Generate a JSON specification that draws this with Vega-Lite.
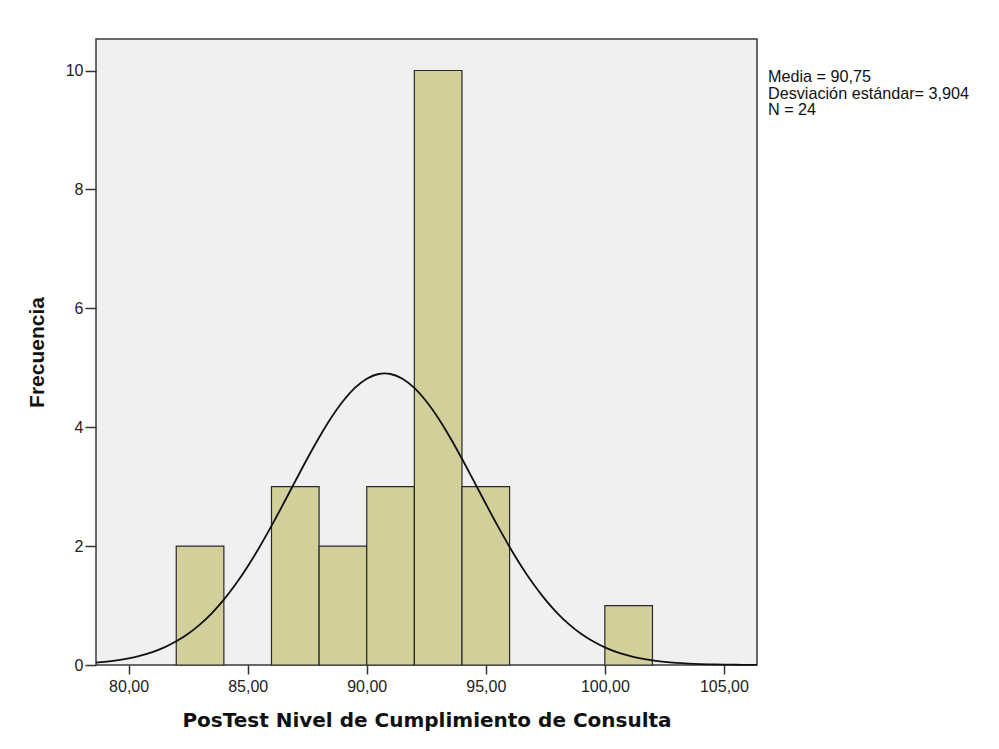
{
  "$schema": "https://vega.github.io/schema/vega-lite/v6.json",
  "autosize": {"type": "none"},
  "width": 661,
  "height": 626,
  "padding": {"left": 96, "top": 39, "right": 242, "bottom": 84},
  "background": "white",
  "config": {
    "view": {"fill": "#f0f0f0", "stroke": "#3a3a3a", "strokeWidth": 1.5},
    "axis": {"grid": false, "domain": false}
  },
  "datasets": {
    "bars": [
      {"bin_start": 82, "bin_end": 84, "count": 2},
      {"bin_start": 86, "bin_end": 88, "count": 3},
      {"bin_start": 88, "bin_end": 90, "count": 2},
      {"bin_start": 90, "bin_end": 92, "count": 3},
      {"bin_start": 92, "bin_end": 94, "count": 10},
      {"bin_start": 94, "bin_end": 96, "count": 3},
      {"bin_start": 100, "bin_end": 102, "count": 1}
    ],
    "curve": [
      {"x": 78.63, "y": 0.0396}, {"x": 79.0, "y": 0.0529}, {"x": 79.5, "y": 0.0772},
      {"x": 80.0, "y": 0.1107}, {"x": 80.5, "y": 0.1563}, {"x": 81.0, "y": 0.2169},
      {"x": 81.5, "y": 0.2962}, {"x": 82.0, "y": 0.398}, {"x": 82.5, "y": 0.526},
      {"x": 83.0, "y": 0.684}, {"x": 83.5, "y": 0.8746}, {"x": 84.0, "y": 1.100},
      {"x": 84.5, "y": 1.362}, {"x": 85.0, "y": 1.658}, {"x": 85.5, "y": 1.986},
      {"x": 86.0, "y": 2.340}, {"x": 86.5, "y": 2.712}, {"x": 87.0, "y": 3.092},
      {"x": 87.5, "y": 3.469}, {"x": 88.0, "y": 3.827}, {"x": 88.5, "y": 4.154},
      {"x": 89.0, "y": 4.436}, {"x": 89.5, "y": 4.660}, {"x": 90.0, "y": 4.815},
      {"x": 90.5, "y": 4.895}, {"x": 90.75, "y": 4.905}, {"x": 91.0, "y": 4.895},
      {"x": 91.5, "y": 4.815}, {"x": 92.0, "y": 4.660}, {"x": 92.5, "y": 4.436},
      {"x": 93.0, "y": 4.154}, {"x": 93.5, "y": 3.827}, {"x": 94.0, "y": 3.469},
      {"x": 94.5, "y": 3.092}, {"x": 95.0, "y": 2.712}, {"x": 95.5, "y": 2.340},
      {"x": 96.0, "y": 1.986}, {"x": 96.5, "y": 1.658}, {"x": 97.0, "y": 1.362},
      {"x": 97.5, "y": 1.100}, {"x": 98.0, "y": 0.8746}, {"x": 98.5, "y": 0.684},
      {"x": 99.0, "y": 0.526}, {"x": 99.5, "y": 0.398}, {"x": 100.0, "y": 0.2962},
      {"x": 100.5, "y": 0.2169}, {"x": 101.0, "y": 0.1563}, {"x": 101.5, "y": 0.1107},
      {"x": 102.0, "y": 0.0772}, {"x": 102.5, "y": 0.0529}, {"x": 103.0, "y": 0.0357},
      {"x": 103.5, "y": 0.0237}, {"x": 104.0, "y": 0.0155}, {"x": 104.5, "y": 0.0099},
      {"x": 105.0, "y": 0.0063}, {"x": 105.5, "y": 0.0039}, {"x": 106.0, "y": 0.0024},
      {"x": 106.39, "y": 0.0016}
    ],
    "stats": [
      {"x": 106.85, "y": 9.805, "label": "Media = 90,75\nDesviación estándar= 3,904\nN = 24"}
    ]
  },
  "layer": [
    {
      "data": {"name": "bars"},
      "mark": {"type": "rect", "fill": "#d3cf9a", "stroke": "#2a2a2a", "strokeWidth": 1.2},
      "encoding": {
        "x": {
          "field": "bin_start", "type": "quantitative",
          "scale": {"domain": [78.63, 106.39], "nice": false, "zero": false},
          "axis": {
            "values": [80, 85, 90, 95, 100, 105],
            "labelExpr": "replace(format(datum.value, '.2f'), '.', ',')",
            "tickSize": 9, "tickColor": "#333", "tickWidth": 1.5,
            "labelPadding": 4, "labelFont": "Liberation Sans", "labelFontSize": 16, "labelColor": "#222",
            "title": "PosTest Nivel de Cumplimiento de Consulta",
            "titleFont": "DejaVu Sans", "titleFontSize": 20, "titleFontWeight": "bold", "titleColor": "#111",
            "titleBaseline": "alphabetic", "titleY": 61, "titleX": 330.5
          }
        },
        "x2": {"field": "bin_end"},
        "y": {
          "field": "count", "type": "quantitative",
          "scale": {"domain": [0, 10.53], "nice": false},
          "axis": {
            "values": [0, 2, 4, 6, 8, 10],
            "format": "d",
            "tickSize": 11, "tickColor": "#333", "tickWidth": 1.5,
            "labelPadding": 2, "labelFont": "Liberation Sans", "labelFontSize": 16, "labelColor": "#222",
            "title": "Frecuencia",
            "titleFont": "Liberation Sans", "titleFontSize": 21, "titleFontWeight": "bold", "titleColor": "#111",
            "titleBaseline": "alphabetic", "titleX": -53, "titleY": 313
          }
        },
        "y2": {"datum": 0}
      }
    },
    {
      "data": {"name": "curve"},
      "mark": {"type": "line", "color": "#111", "strokeWidth": 1.8, "interpolate": "monotone"},
      "encoding": {
        "x": {"field": "x", "type": "quantitative"},
        "y": {"field": "y", "type": "quantitative"}
      }
    },
    {
      "data": {"name": "stats"},
      "mark": {"type": "text", "align": "left", "baseline": "alphabetic", "lineBreak": "\n", "font": "Liberation Sans", "fontSize": 16.2, "lineHeight": 16.5, "color": "#111"},
      "encoding": {
        "x": {"field": "x", "type": "quantitative"},
        "y": {"field": "y", "type": "quantitative"},
        "text": {"field": "label"}
      }
    }
  ]
}
